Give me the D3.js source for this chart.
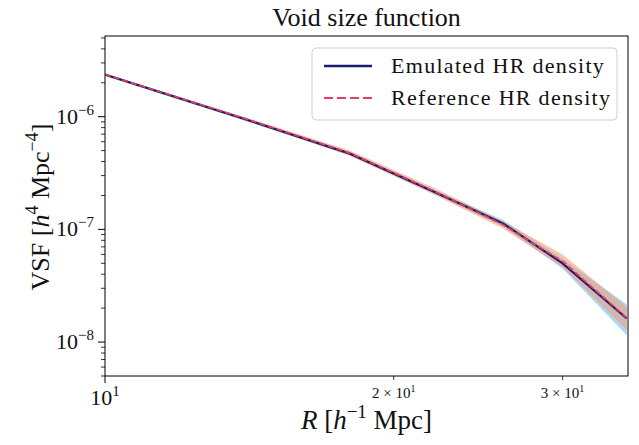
<!DOCTYPE html>
<html>
<head>
<meta charset="utf-8">
<script src="https://cdn.jsdelivr.net/npm/d3@7"></script>
<style>
  body { margin: 0; background: #fff; }
  text { font-family: "Liberation Serif", "DejaVu Serif", serif; fill: #111; }
</style>
</head>
<body>
<svg id="chart"></svg>
<script>
// void radius bins [h^-1 Mpc]
const radius = [10, 14, 18, 22, 26, 30, 35];

// emulated HR density VSF and its band
const emulated     = [2.36e-6, 9.5e-7, 4.7e-7, 2.17e-7, 1.13e-7, 5.0e-8, 1.62e-8];
const emulatedLow  = [2.30e-6, 9.2e-7, 4.55e-7, 2.08e-7, 1.06e-7, 4.5e-8, 1.15e-8];
const emulatedHigh = [2.42e-6, 9.8e-7, 4.85e-7, 2.26e-7, 1.21e-7, 5.5e-8, 2.15e-8];

// reference HR density VSF and its band
const reference     = [2.37e-6, 9.6e-7, 4.75e-7, 2.2e-7, 1.1e-7, 5.2e-8, 1.64e-8];
const referenceLow  = [2.33e-6, 9.3e-7, 4.5e-7, 2.05e-7, 1.02e-7, 4.6e-8, 1.28e-8];
const referenceHigh = [2.41e-6, 9.9e-7, 5.0e-7, 2.35e-7, 1.18e-7, 6.0e-8, 2.05e-8];

const yMajor = [1e-8, 1e-7, 1e-6];
const yMajorExp = ['−8', '−7', '−6'];
const xMinor = [20, 30];

const width = 639, height = 445;
const margin = { top: 36, right: 11, bottom: 69, left: 105 };
const w = width - margin.left - margin.right;
const h = height - margin.top - margin.bottom;

const svg = d3.select('#chart').attr('width', width).attr('height', height);

const x = d3.scaleLog().domain([10, 35.1]).range([0, w]);
const y = d3.scaleLog().domain([5.0e-9, 5.2e-6]).range([h, 0]);

svg.append('defs').append('clipPath').attr('id', 'clip')
    .append('rect').attr('width', w).attr('height', h);

const g = svg.append('g').attr('transform', `translate(${margin.left},${margin.top})`);
const plot = g.append('g').attr('clip-path', 'url(#clip)');

const rows = radius.map((r, i) => ({
    r,
    emu: emulated[i], emuLo: emulatedLow[i], emuHi: emulatedHigh[i],
    ref: reference[i], refLo: referenceLow[i], refHi: referenceHigh[i]
}));

// bands
const area = (lo, hi) => d3.area().x(d => x(d.r)).y0(d => y(d[lo])).y1(d => y(d[hi]));
plot.append('path').datum(rows)
    .attr('d', area('emuLo', 'emuHi'))
    .attr('fill', '#8ecbf7').attr('fill-opacity', 0.75);
plot.append('path').datum(rows)
    .attr('d', area('refLo', 'refHi'))
    .attr('fill', '#f0a07a').attr('fill-opacity', 0.6);

// lines
const line = key => d3.line().x(d => x(d.r)).y(d => y(d[key]));
plot.append('path').datum(rows)
    .attr('d', line('emu'))
    .attr('fill', 'none').attr('stroke', '#1c1c6e').attr('stroke-width', 2.2);
plot.append('path').datum(rows)
    .attr('d', line('ref'))
    .attr('fill', 'none').attr('stroke', '#e23c5e').attr('stroke-width', 1.8)
    .attr('stroke-dasharray', '6,3');

// frame
g.append('rect').attr('width', w).attr('height', h)
    .attr('fill', 'none').attr('stroke', '#000').attr('stroke-width', 1);

// y ticks
const yMinor = y.ticks().filter(v => !yMajor.some(m => Math.abs(m - v) / m < 1e-6));
g.selectAll('.ymin').data(yMinor).join('line')
    .attr('x1', -4).attr('x2', 0)
    .attr('y1', d => y(d)).attr('y2', d => y(d))
    .attr('stroke', '#000').attr('stroke-width', 0.8);
g.selectAll('.ymaj').data(yMajor).join('line')
    .attr('x1', -7).attr('x2', 0)
    .attr('y1', d => y(d)).attr('y2', d => y(d))
    .attr('stroke', '#000').attr('stroke-width', 1);
const yl = g.selectAll('.ylab').data(yMajor).join('text')
    .attr('x', -11).attr('y', d => y(d) + 7)
    .attr('text-anchor', 'end').attr('font-size', 22);
yl.append('tspan').text('10');
yl.append('tspan').attr('dy', -9).attr('font-size', 15).text((d, i) => yMajorExp[i]);

// x ticks
g.append('line').attr('x1', x(10)).attr('x2', x(10)).attr('y1', h).attr('y2', h + 7)
    .attr('stroke', '#000');
const x10 = g.append('text').attr('x', x(10)).attr('y', h + 29)
    .attr('text-anchor', 'middle').attr('font-size', 22);
x10.append('tspan').text('10');
x10.append('tspan').attr('dy', -9).attr('font-size', 15).text('1');

g.selectAll('.xmin').data(xMinor).join('line')
    .attr('x1', d => x(d)).attr('x2', d => x(d))
    .attr('y1', h).attr('y2', h + 4)
    .attr('stroke', '#000').attr('stroke-width', 0.8);
const xl = g.selectAll('.xlab').data(xMinor).join('text')
    .attr('x', d => x(d)).attr('y', h + 22)
    .attr('text-anchor', 'middle').attr('font-size', 15);
xl.append('tspan').text(d => `${d / 10} × 10`);
xl.append('tspan').attr('dy', -6).attr('font-size', 10).text('1');

// title
svg.append('text').attr('x', margin.left + w / 2).attr('y', 26)
    .attr('text-anchor', 'middle').attr('font-size', 26).text('Void size function');

// x label
const xt = svg.append('text').attr('x', margin.left + w / 2).attr('y', 429)
    .attr('text-anchor', 'middle').attr('font-size', 27);
xt.append('tspan').attr('font-style', 'italic').text('R');
xt.append('tspan').text(' [');
xt.append('tspan').attr('font-style', 'italic').text('h');
xt.append('tspan').attr('dy', -11).attr('font-size', 19).text('−1');
xt.append('tspan').attr('dy', 11).text(' Mpc]');

// y label
const ytl = svg.append('text')
    .attr('transform', `translate(49,${margin.top + h / 2 + 1}) rotate(-90)`)
    .attr('text-anchor', 'middle').attr('font-size', 26);
ytl.append('tspan').text('VSF [');
ytl.append('tspan').attr('font-style', 'italic').text('h');
ytl.append('tspan').attr('dy', -11).attr('font-size', 18).text('4');
ytl.append('tspan').attr('dy', 11).text(' Mpc');
ytl.append('tspan').attr('dy', -11).attr('font-size', 18).text('−4');
ytl.append('tspan').attr('dy', 11).text(']');

// legend
const legend = g.append('g').attr('transform', `translate(${312 - margin.left},${48 - margin.top})`);
legend.append('rect').attr('width', 305).attr('height', 72).attr('rx', 4)
    .attr('fill', '#fff').attr('fill-opacity', 0.8)
    .attr('stroke', '#d0d0d0').attr('stroke-width', 1);
const entries = [
    { label: 'Emulated HR density', color: '#1c1c6e', dash: null, width: 2.4 },
    { label: 'Reference HR density', color: '#e23c5e', dash: '9,4', width: 2.2 }
];
entries.forEach((e, i) => {
    const yy = 18 + i * 32;
    legend.append('line').attr('x1', 12).attr('x2', 60).attr('y1', yy).attr('y2', yy)
        .attr('stroke', e.color).attr('stroke-width', e.width)
        .attr('stroke-dasharray', e.dash);
    legend.append('text').attr('x', 79).attr('y', yy + 7)
        .attr('font-size', 22).attr('letter-spacing', 1.3).text(e.label);
});
</script>
</body>
</html>
